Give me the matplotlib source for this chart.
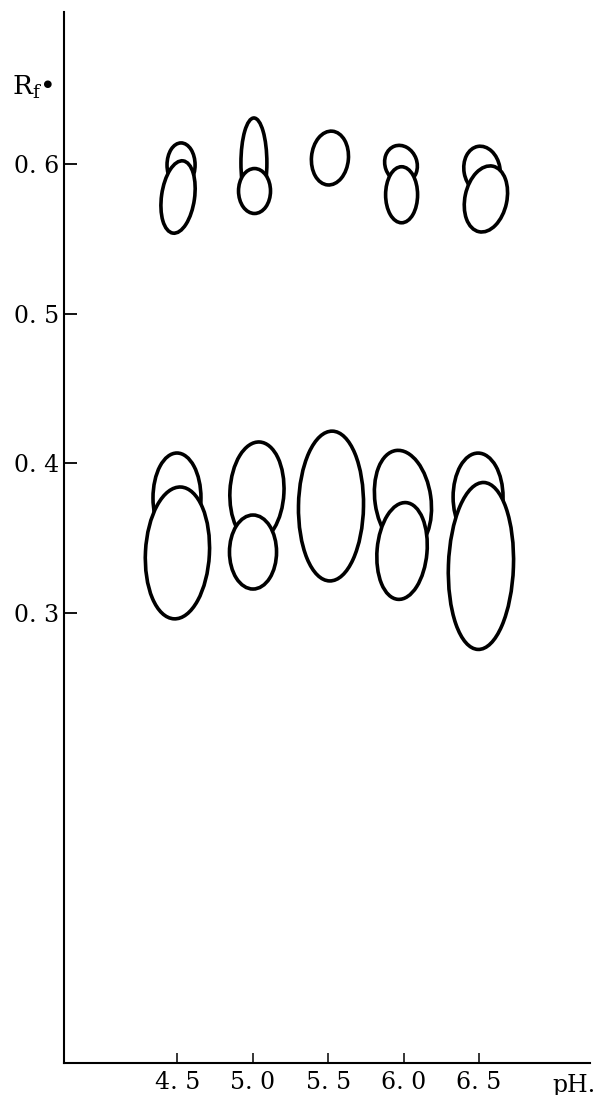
import matplotlib
matplotlib.use("Agg")
import matplotlib.pyplot as plt
from matplotlib.patches import Ellipse
from matplotlib.transforms import ScaledTranslation

plt.rcParams['font.family'] = ['DejaVu Serif']
plt.rcParams['mathtext.fontset'] = 'dejavuserif'

# ---- data: chromatogram spots (centre pH, centre Rf, spot width in pH, spot height in Rf, tilt deg)
spot_ph = [4.525, 4.505, 5.008, 5.012, 5.512, 5.983, 5.987, 6.520, 6.546,
           4.498, 4.501, 5.028, 5.002, 5.519, 5.996, 5.990, 6.494, 6.513]
spot_rf = [0.5993, 0.5779, 0.6006, 0.5819, 0.6039, 0.5999, 0.5794, 0.5959, 0.5766,
           0.3770, 0.3403, 0.3810, 0.3409, 0.3716, 0.3756, 0.3416, 0.3776, 0.3316]
spot_w = [0.186, 0.219, 0.172, 0.212, 0.245, 0.212, 0.212, 0.239, 0.278,
          0.318, 0.424, 0.358, 0.312, 0.431, 0.371, 0.331, 0.331, 0.431]
spot_h = [0.0294, 0.0487, 0.0601, 0.0300, 0.0360, 0.0254, 0.0374, 0.0320, 0.0447,
          0.0600, 0.0881, 0.0668, 0.0494, 0.1000, 0.0668, 0.0648, 0.0587, 0.1115]
spot_tilt = [0, -8, 0, 0, -5, 20, 0, 10, -12,
             0, -3, -3, 0, -1, 8, -5, 0, -2]

ph_ticks = [4.5, 5.0, 5.5, 6.0, 6.5]
ph_ticklabels = ['4. 5', '5. 0', '5. 5', '6. 0', '6. 5']
rf_ticks = [0.3, 0.4, 0.5, 0.6]
rf_ticklabels = ['0. 3', '0. 4', '0. 5', '0. 6']

W, H = 601, 1095
fig = plt.figure(figsize=(W / 100, H / 100), dpi=100)
ax = fig.add_axes([64 / W, (H - 1062.7) / H, (590 - 64) / W, (1062.7 - 12) / H])
ax.set_xlim(3.749, 7.236)
ax.set_ylim(0, 0.7014)

for s in ['top', 'right']:
    ax.spines[s].set_visible(False)
for s in ['left', 'bottom']:
    ax.spines[s].set_linewidth(1.5)
    ax.spines[s].set_color('black')

ax.set_xticks(ph_ticks, ph_ticklabels)
ax.set_yticks(rf_ticks, rf_ticklabels)
ax.tick_params(axis='x', direction='in', length=7.5, width=1.1, pad=6, labelsize=17)
ax.tick_params(axis='y', direction='in', length=9, width=1.3, pad=3.5, labelsize=17)

# pixel scale of data units
p0 = ax.transData.transform((0, 0))
p1 = ax.transData.transform((1, 1))
sx, sy = p1[0] - p0[0], p1[1] - p0[1]

for i, (x, y, w, h, t) in enumerate(zip(spot_ph, spot_rf, spot_w, spot_h, spot_tilt)):
    e = Ellipse((0, 0), w * sx, h * sy, angle=t,
                transform=ScaledTranslation(x, y, ax.transData),
                facecolor='white', edgecolor='black', linewidth=2.6,
                zorder=3 + i, clip_on=False)
    ax.add_patch(e)

fig.text(12 / W, (H - 95) / H, r'R$_{\mathrm{f}}$•', fontsize=19, ha='left', va='baseline')
fig.text(552 / W, (H - 1092) / H, 'pH.', fontsize=17, ha='left', va='baseline',
         fontweight='normal')

fig.savefig('out.png', dpi=100, facecolor='white')
